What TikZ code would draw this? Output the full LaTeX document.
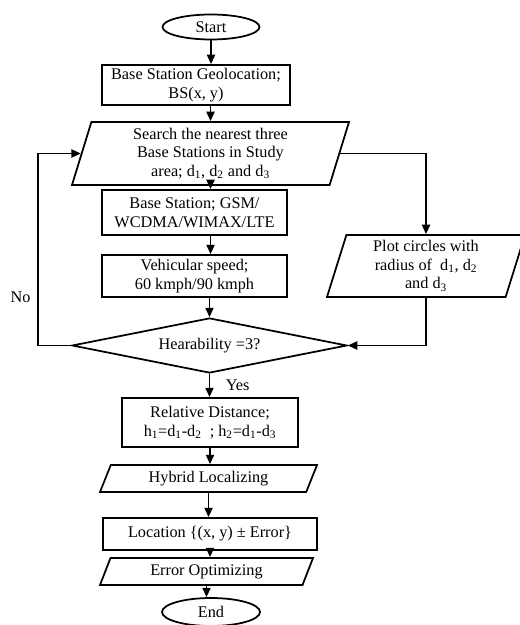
\documentclass[tikz,border=0pt]{standalone}
\usepackage{fontspec}
\setmainfont{Liberation Serif}
\usetikzlibrary{shapes.geometric,arrows.meta}

\tikzset{
  box/.style={draw, line width=1.4pt, rectangle, inner sep=1pt, align=center},
  io/.style={draw, line width=1.4pt, trapezium, trapezium left angle=70, trapezium right angle=110,
    trapezium stretches body, inner sep=1pt, align=center},
  term/.style={draw, line width=1.4pt, ellipse, inner sep=0pt},
  decide/.style={draw, line width=1.4pt, diamond, aspect=5, inner sep=0pt},
  arr/.style={line width=1.4pt, -{Triangle[length=7.5pt,width=6.5pt]}},
}

\begin{document}
\begin{tikzpicture}[x=0.8pt, y=-0.8pt, font=\fontsize{13}{14.8}\selectfont]
\useasboundingbox (0,0) rectangle (519,625);

% main column
\node[term, minimum width=77.6pt, minimum height=20pt] (start) at (211,27) {Start};
\node[box, minimum width=150.4pt, minimum height=32pt] (geo) at (196,85) {Base Station Geolocation;\\ BS(x, y)};
\node[io, minimum width=221.6pt, minimum height=50.4pt] (search) at (210.5,153.5)
  {Search the nearest three\\ Base Stations in Study\\ area; d\textsubscript{1}, d\textsubscript{2} and d\textsubscript{3}};
\node[box, minimum width=148pt, minimum height=36pt] (bst) at (194.5,212.5) {Base Station; GSM/\\ WCDMA/WIMAX/LTE};
\node[box, minimum width=148pt, minimum height=33.6pt] (speed) at (194.5,276) {Vehicular speed;\\ 60 kmph/90 kmph};
\node[io, minimum width=158.4pt, minimum height=49.6pt] (plot) at (426,266)
  {Plot circles with\\ radius of~ d\textsubscript{1}, d\textsubscript{2}\\ and d\textsubscript{3}};
\node[decide, minimum width=220pt, minimum height=44pt] (hear) at (209.5,345.5) {Hearability =3?};
\node[box, minimum width=140.8pt, minimum height=39.2pt] (rel) at (210,422.5)
  {Relative Distance;\\ h\textsubscript{1}=d\textsubscript{1}-d\textsubscript{2}~ ; h\textsubscript{2}=d\textsubscript{1}-d\textsubscript{3}};
\node[io, trapezium left angle=58, trapezium right angle=122, minimum width=173.6pt, minimum height=21.6pt] (hyb) at (208.5,478.5) {Hybrid Localizing};
\node[box, minimum width=171.2pt, minimum height=25.6pt] (loc) at (210,534) {Location \{(x, y) ± Error\}};
\node[io, trapezium left angle=58, trapezium right angle=122, minimum width=170.4pt, minimum height=21.6pt] (err) at (206.5,571.5) {Error Optimizing};
\node[term, minimum width=78.4pt, minimum height=22.4pt] (end) at (211,612) {End};

% arrows
\draw[arr] (start.south) -- (start.south |- geo.north);
\draw[arr] (search.north |- geo.south) -- (search.north);
\draw[arr] (search.south) -- (search.south |- bst.north);
\draw[arr] (search.south |- bst.south) -- (search.south |- speed.north);
\draw[arr] (hear.north |- speed.south) -- (hear.north);
\draw[arr] (hear.south) -- node[right, xshift=9pt] {Yes} (hear.south |- rel.north);
\draw[arr] (rel.south) -- (rel.south |- hyb.north);
\draw[arr] (hyb.south) -- (hyb.south |- loc.north);
\draw[arr] (loc.south) -- (loc.south |- err.north);
\draw[arr] (err.south) -- (err.south |- end.north);

% side branches
\draw[arr] (search.east) -| (plot.north);
\draw[arr] (plot.south) |- (hear.east);
\draw[arr] (hear.west) -- ++(-33,0) |- node[pos=0.125, left, xshift=-2pt] {No} (search.west);

\end{tikzpicture}
\end{document}
